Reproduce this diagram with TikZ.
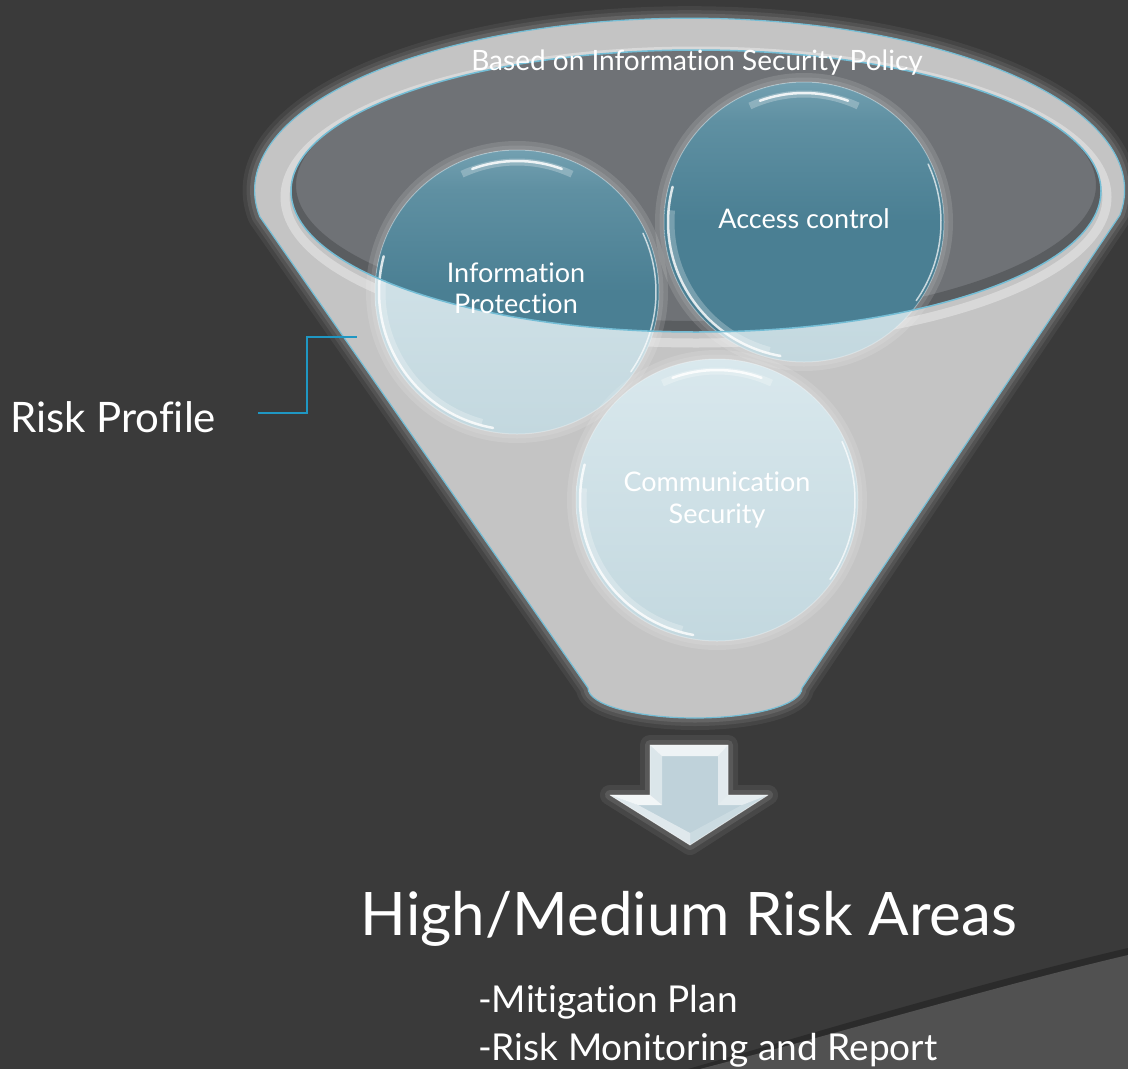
\documentclass[tikz,border=0pt]{standalone}
\usepackage{fontspec}
\setmainfont{Lato}[Ligatures={NoCommon}]
\definecolor{bgc}{HTML}{3A3A3A}
\definecolor{bglight}{HTML}{515151}
\definecolor{funnelc}{HTML}{C4C4C4}
\definecolor{innerc}{HTML}{6F7276}
\definecolor{rimblue}{HTML}{74BDD5}
\definecolor{connc}{HTML}{1F97C3}
\definecolor{paletop}{HTML}{D9E8ED}
\definecolor{palebot}{HTML}{C3D8DF}
\definecolor{tealtop}{HTML}{9CC2D0}
\definecolor{tealmid}{HTML}{5F90A2}
\definecolor{tealbot}{HTML}{4A7F93}
\definecolor{arrowc}{HTML}{BFD2DA}
\pgfdeclareverticalshading{tealshade}{100bp}{color(0bp)=(tealbot); color(50bp)=(tealbot); color(68bp)=(tealmid); color(90bp)=(tealtop); color(100bp)=(tealtop)}
\newcommand\funnelpath{(260,217) -- (588,688) arc[start angle=180,end angle=0,x radius=107,y radius=30] -- (1120,215) arc[start angle=8.3,end angle=-188.9,x radius=435,y radius=172] -- cycle}
\newcommand\innerellipse{(696,191) ellipse [x radius=405, y radius=141]}
\newcommand\palesphere[3]{%
  \draw[white, opacity=0.12, line width=10] (#1,#2) circle[radius=#3+4];
  \draw[white, opacity=0.10, line width=5] (#1,#2) circle[radius=#3+2];
  \shade[top color=paletop, bottom color=palebot] (#1,#2) circle[radius=#3];}
\newcommand\tealsphere[3]{%
  \shade[shading=tealshade] (#1,#2) circle[radius=#3];}
\newcommand\glosssphere[3]{%
  \draw[white, opacity=0.25, line width=7] (#1,#2) ++(245:#3-12) arc[start angle=245, end angle=295, radius=#3-12];
  \draw[white, opacity=0.85, line width=2.5, line cap=round] (#1,#2) ++(250:#3-11) arc[start angle=250, end angle=290, radius=#3-11];
  \draw[white, opacity=0.8, line width=2.5, line cap=round] (#1,#2) ++(100:#3-4) arc[start angle=100, end angle=195, radius=#3-4];
  \draw[white, opacity=0.25, line width=7] (#1,#2) ++(105:#3-7) arc[start angle=105, end angle=185, radius=#3-7];
  \draw[white, opacity=0.7, line width=1.5, line cap=round] (#1,#2) ++(-25:#3-3) arc[start angle=-25, end angle=35, radius=#3-3];
  \draw[white, opacity=0.3, line width=1] (#1,#2) circle[radius=#3];}
\begin{document}
\begin{tikzpicture}[x=1pt,y=-1pt,
  txt/.style={text=white, inner sep=0pt},
  conn/.style={draw=connc, line width=2pt}]
\useasboundingbox (0,0) rectangle (1128,1069);
% background
\fill[bgc] (0,0) rectangle (1128,1069);
\fill[black, opacity=0.25] (688,1069) .. controls (850,1022) and (1000,978) .. (1128,948) -- (1128,958) .. controls (1000,988) and (850,1032) .. (700,1069) -- cycle;
\fill[bglight] (700,1069) .. controls (850,1030) and (1000,985) .. (1128,955) -- (1128,1069) -- cycle;
% funnel glow
\draw[white, opacity=0.06, line width=24, line join=round] \funnelpath;
\draw[white, opacity=0.08, line width=16, line join=round] \funnelpath;
\draw[white, opacity=0.10, line width=9, line join=round] \funnelpath;
% funnel body
\fill[funnelc] \funnelpath;
\draw[rimblue, line width=1.2, line join=round] \funnelpath;
% lip highlight
\draw[white, opacity=0.35, line width=9] (696,197) ellipse [x radius=411, y radius=146];
% inner opening
\fill[innerc] \innerellipse;
\begin{scope}
  \clip \innerellipse;
  \draw[black, opacity=0.18, line width=10] (696,185) ellipse [x radius=405, y radius=141];
\end{scope}
% spheres (pale part)
\palesphere{517}{292}{142}
\palesphere{804}{222}{140}
\palesphere{717}{500}{141}
% spheres inside the opening (teal)
\begin{scope}
  \clip \innerellipse;
  \tealsphere{517}{292}{142}
  \tealsphere{804}{222}{140}
\end{scope}
\glosssphere{517}{292}{142}
\glosssphere{804}{222}{140}
\glosssphere{717}{500}{141}
\node[circle, minimum size=284, inner sep=0pt] (ipball) at (517,292) {};
\node[circle, minimum size=280, inner sep=0pt] (acball) at (804,222) {};
\node[circle, minimum size=282, inner sep=0pt] (csball) at (717,500) {};
% opening rim line
\draw[rimblue, line width=1.5] \innerellipse;
% texts
\node[txt, anchor=base, font=\fontsize{28}{32}\selectfont] (policy) at (697,70) {Based on Information Security Policy};
\node[txt, anchor=base, font=\fontsize{27}{30}\selectfont] (ac) at (804,228) {Access control};
\node[txt, align=center, font=\fontsize{27}{31}\selectfont] (ip) at (516,288) {Information\\Protection};
\node[txt, align=center, font=\fontsize{27}{32}\selectfont] (cs) at (717,500) {Communication\\Security};
\node[txt, anchor=base west, font=\fontsize{42}{48}\selectfont] (rp) at (10,432) {Risk Profile};
\node[txt, anchor=base, font=\fontsize{60}{66}\selectfont] (hm) at (689,935) {High/Medium Risk Areas};
\node[txt, anchor=base west, font=\fontsize{37}{42}\selectfont] (mp) at (478,1012) {-Mitigation Plan};
\node[txt, anchor=base west, font=\fontsize{37}{42}\selectfont] (rm) at (478,1060) {-Risk Monitoring and Report};
% connector
\coordinate (rpstart) at (258,413);
\coordinate (fedge) at (357,337);
\draw[conn] (rpstart) -- (307,413) -- (307,337) -- (fedge);
% arrow glow
\draw[white, opacity=0.07, line width=20, line join=round] (650,745) -- (728,745) -- (728,795) -- (768,795) -- (690,845) -- (610,795) -- (650,795) -- cycle;
\draw[white, opacity=0.10, line width=10, line join=round] (650,745) -- (728,745) -- (728,795) -- (768,795) -- (690,845) -- (610,795) -- (650,795) -- cycle;
% arrow body
\fill[arrowc] (650,745) -- (728,745) -- (728,795) -- (768,795) -- (690,845) -- (610,795) -- (650,795) -- cycle;
\fill[white, opacity=0.75] (650,745) -- (728,745) -- (718,756) -- (662,756) -- cycle;
\fill[white, opacity=0.45] (650,745) -- (662,756) -- (662,805) -- (650,795) -- cycle;
\fill[white, opacity=0.55] (728,745) -- (718,756) -- (718,805) -- (728,795) -- cycle;
\fill[white, opacity=0.80] (610,795) -- (650,795) -- (662,805) -- (638,805) -- cycle;
\fill[white, opacity=0.60] (768,795) -- (728,795) -- (718,805) -- (742,805) -- cycle;
\fill[white, opacity=0.50] (610,795) -- (638,805) -- (690,833) -- (690,845) -- cycle;
\fill[white, opacity=0.20] (768,795) -- (742,805) -- (690,833) -- (690,845) -- cycle;
\draw[white, opacity=0.5, line width=0.8, line join=round] (650,745) -- (728,745) -- (728,795) -- (768,795) -- (690,845) -- (610,795) -- (650,795) -- cycle;
\end{tikzpicture}
\end{document}
